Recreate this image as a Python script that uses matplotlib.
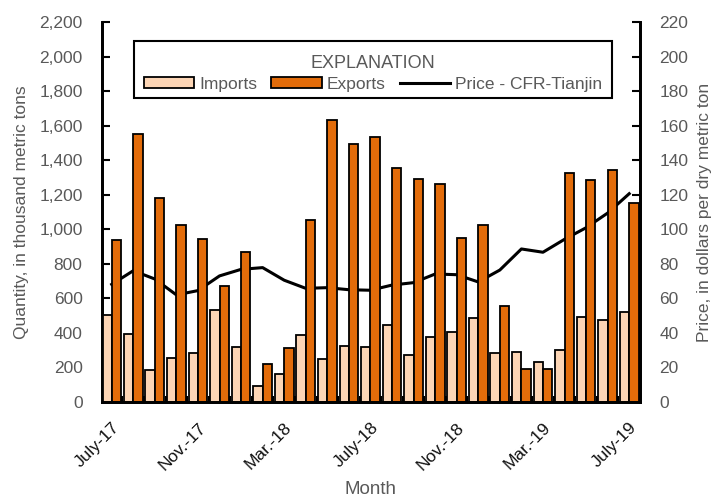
import matplotlib
matplotlib.use("Agg")
import matplotlib.pyplot as plt
import numpy as np
from matplotlib.ticker import FuncFormatter, FixedLocator
from matplotlib import font_manager as fm
from matplotlib.patches import Rectangle

names = {f.name for f in fm.fontManager.ttflist}
if 'Liberation Sans Narrow' in names:
    plt.rcParams['font.family'] = ['Liberation Sans Narrow', 'DejaVu Sans']
    TS, LS = 14, 15
else:
    plt.rcParams['font.family'] = ['Liberation Sans', 'DejaVu Sans']
    TS, LS = 12.5, 12.5

months = ["July-17", "Aug-17", "Sep-17", "Oct-17", "Nov.-17", "Dec-17", "Jan-18", "Feb-18",
          "Mar.-18", "Apr-18", "May-18", "June-18", "July-18", "Aug-18", "Sep-18", "Oct-18",
          "Nov.-18", "Dec-18", "Jan-19", "Feb-19", "Mar.-19", "Apr-19", "May-19", "June-19", "July-19"]
imports = [505, 392, 185, 255, 285, 530, 320, 95, 160, 388, 249, 324,
           318, 445, 272, 376, 405, 484, 282, 290, 234, 302, 495, 475, 523]
exports = [938, 1552, 1183, 1023, 942, 670, 869, 218, 313, 1054, 1633, 1496,
           1533, 1355, 1293, 1262, 950, 1023, 558, 193, 193, 1326, 1285, 1343, 1154]
price = [68.1, 76.0, 71.2, 62.0, 64.5, 73.0, 76.8, 77.8, 70.5, 65.8, 66.2, 65.0,
         64.7, 67.7, 69.1, 74.1, 73.7, 69.5, 76.4, 88.6, 86.7, 94.2, 100.9, 109.4, 120.6]
label_idx = [0, 4, 8, 12, 16, 20, 24]

imp_color = '#FCD5B5'
exp_color = '#E36C0A'
txt = '#595959'

W, H = 725, 500
fig = plt.figure(figsize=(W / 100, H / 100), dpi=100)
ax = fig.add_axes([102 / W, 98 / H, 538 / W, 380 / H])
ax2 = ax.twinx()

x = np.arange(len(months))
w = 0.435
ax.bar(x - w, imports, width=w, align='edge', color=imp_color, edgecolor='black',
       linewidth=1.3, label='Imports', zorder=2)
ax.bar(x, exports, width=w, align='edge', color=exp_color, edgecolor='black',
       linewidth=1.3, label='Exports', zorder=2)
ln, = ax2.plot(x, price, color='black', linewidth=2.2, label='Price - CFR-Tianjin')

ax.set_xlim(-0.45, 24.5)
ax.set_ylim(0, 2200)
ax2.set_ylim(0, 220)
ax.set_yticks(np.arange(0, 2201, 200))
ax.yaxis.set_major_formatter(FuncFormatter(lambda v, p: f"{int(v):,}"))
ax2.set_yticks(np.arange(0, 221, 20))

ax.set_xticks(label_idx)
ax.set_xticklabels([months[i] for i in label_idx], rotation=45, ha='right',
                   rotation_mode='anchor')
ax.xaxis.set_minor_locator(FixedLocator(np.arange(-0.5, 25, 1.0)))
ax.tick_params(axis='x', which='major', length=0, pad=13, labelsize=TS, labelcolor='#111111')
ax.tick_params(axis='x', which='minor', direction='in', length=4, width=1.5)
ax.tick_params(axis='y', direction='in', length=6, width=1.5, labelsize=TS, labelcolor=txt, pad=14)
ax2.tick_params(axis='y', direction='in', length=6, width=1.5, labelsize=TS, labelcolor=txt, pad=14)

for a in (ax, ax2):
    a.spines['top'].set_visible(False)
    for s in ('left', 'right', 'bottom'):
        a.spines[s].set_linewidth(2)

ax.set_xlabel('Month', fontsize=LS + 1, color=txt)
ax.set_ylabel('Quantity, in thousand metric tons', fontsize=LS, color=txt)
ax2.set_ylabel('Price, in dollars per dry metric ton', fontsize=LS, color=txt)
ax.xaxis.set_label_coords(0.5, (402 - 481) / 380)
ax.yaxis.set_label_coords((29 - 102) / 538, 0.5)
ax2.yaxis.set_label_coords((697 - 102) / 538, 0.5)

# legend: frame + title drawn separately, entries via legend
fig.patches.append(Rectangle((134 / W, (H - 98) / H), 478 / W, 57 / H,
                             transform=fig.transFigure, facecolor='white',
                             edgecolor='black', linewidth=1.5, zorder=4))
fig.text(373 / W, (H - 63) / H, 'EXPLANATION', ha='center', va='center',
         fontsize=TS + 0.5, color=txt, zorder=6)
h1, l1 = ax.get_legend_handles_labels()
leg = fig.legend(h1 + [ln], l1 + [ln.get_label()], ncol=3, loc='center',
                 bbox_to_anchor=(373 / W, (H - 84) / H), fontsize=TS,
                 frameon=False, handlelength=2.9, handleheight=0.6,
                 columnspacing=0.8, handletextpad=0.3, borderpad=0.0)
for t in leg.get_texts():
    t.set_color(txt)
leg.set_zorder(6)
ax.set_zorder(ax2.get_zorder() + 1)
ax.patch.set_visible(False)

fig.savefig('out.png', dpi=100)
